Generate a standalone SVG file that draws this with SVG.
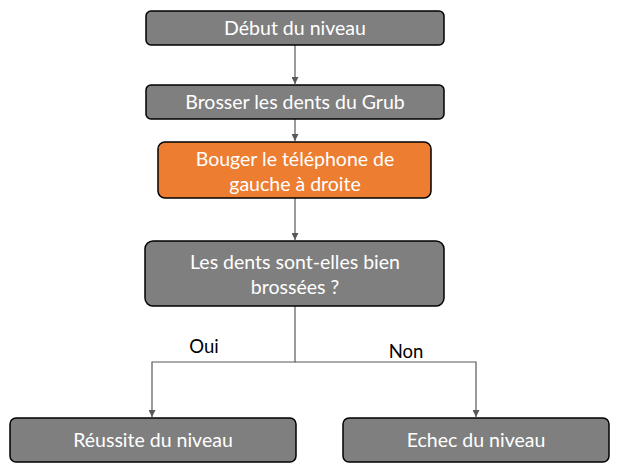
<svg xmlns="http://www.w3.org/2000/svg" width="619" height="471" viewBox="0 0 619 471">
<defs>
<style>
.box{fill:#7f7f7f;stroke:#000;stroke-width:1.5}
.orange{fill:#ed7d31;stroke:#000;stroke-width:1.5}
.t{fill:#fff;font-family:Lato,"Liberation Sans",sans-serif;font-size:19.5px;text-anchor:middle}
.lbl{fill:#000;font-family:Lato,"Liberation Sans",sans-serif;font-size:18.5px;text-anchor:middle}
.c{fill:none;stroke:#595959;stroke-width:1.2}
</style>
<marker id="ah" viewBox="0 0 10 10" refX="10" refY="5" markerWidth="7" markerHeight="7" markerUnits="userSpaceOnUse" orient="auto"><path d="M0,0 L10,5 L0,10 z" fill="#595959"/></marker>
</defs>
<rect width="619" height="471" fill="#fff"/>
<g id="connectors">
<line class="c" x1="295" y1="45" x2="295" y2="84" marker-end="url(#ah)"/>
<line class="c" x1="295" y1="119" x2="295" y2="141" marker-end="url(#ah)"/>
<line class="c" x1="295" y1="198" x2="295" y2="240" marker-end="url(#ah)"/>
<polyline class="c" points="295,306 295,362 152,362 152,417" marker-end="url(#ah)"/>
<polyline class="c" points="295,362 476,362 476,417" marker-end="url(#ah)"/>
<text class="lbl" x="204" y="353">Oui</text>
<text class="lbl" x="406" y="358">Non</text>
</g>
<g id="debut"><rect class="box" x="146" y="11" width="298" height="34" rx="5"/><text class="t" x="295" y="35">Début du niveau</text></g>
<g id="brosser"><rect class="box" x="146" y="85" width="298" height="34" rx="5"/><text class="t" x="295" y="109">Brosser les dents du Grub</text></g>
<g id="bouger"><rect class="orange" x="158" y="142" width="273" height="56" rx="7"/><text class="t" x="295" y="166">Bouger le téléphone de</text><text class="t" x="295" y="191">gauche à droite</text></g>
<g id="question"><rect class="box" x="145" y="241" width="299" height="65" rx="8"/><text class="t" x="295" y="269">Les dents sont-elles bien</text><text class="t" x="295" y="294">brossées ?</text></g>
<g id="reussite"><rect class="box" x="10" y="418" width="286" height="44" rx="6"/><text class="t" x="153" y="447">Réussite du niveau</text></g>
<g id="echec"><rect class="box" x="343" y="418" width="266" height="44" rx="6"/><text class="t" x="476" y="447">Echec du niveau</text></g>
</svg>
